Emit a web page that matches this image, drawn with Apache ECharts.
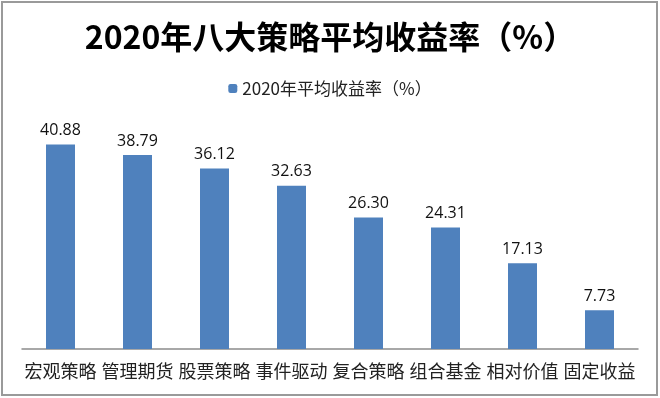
<!DOCTYPE html>
<html>
<head>
<meta charset="utf-8">
<script src="https://cdn.jsdelivr.net/npm/echarts@6/dist/echarts.min.js"></script>
<style>
  html, body { margin: 0; padding: 0; background: #fff; }
  #chart { width: 660px; height: 398px; }
</style>
</head>
<body>
<div id="chart"></div>
<script>
// 分类与数值
var categories = ['宏观策略', '管理期货', '股票策略', '事件驱动', '复合策略', '组合基金', '相对价值', '固定收益']
var returns2020 = [40.88, 38.79, 36.12, 32.63, 26.30, 24.31, 17.13, 7.73]
var seriesName = '2020年平均收益率（%）'

var myChart = echarts.init(document.getElementById('chart'))
myChart.setOption({
  animation: false,
  title: {
    text: '2020年八大策略平均收益率（%）',
    left: 'center',
    top: 16,
    textStyle: {
      fontFamily: 'Noto Sans CJK SC',
      fontWeight: 'bold',
      fontSize: 32,
      color: '#000'
    }
  },
  legend: {
    data: [seriesName],
    top: 75,
    left: 'center',
    itemWidth: 9,
    itemHeight: 9,
    itemGap: 4,
    textStyle: {
      fontFamily: 'Noto Sans CJK SC',
      fontSize: 17,
      color: '#222'
    }
  },
  grid: { left: 22, right: 22, top: 124, bottom: 49 },
  xAxis: {
    type: 'category',
    data: categories,
    axisLine: { lineStyle: { color: '#8c8c8c', width: 1.5 } },
    axisTick: { show: false },
    axisLabel: {
      fontFamily: 'Noto Sans CJK SC',
      fontSize: 18,
      color: '#222',
      margin: 13,
      interval: 0
    }
  },
  yAxis: {
    type: 'value',
    min: 0,
    max: 45,
    show: false
  },
  series: [{
    name: seriesName,
    type: 'bar',
    data: returns2020,
    barWidth: 29,
    itemStyle: { color: '#4f81bd' },
    label: {
      show: true,
      position: 'top',
      distance: 6,
      fontFamily: 'Open Sans',
      fontSize: 16,
      color: '#111',
      formatter: function (p) { return p.value.toFixed(2) }
    }
  }],
  graphic: [{
    type: 'rect',
    shape: { x: 2, y: 2, width: 655, height: 393 },
    style: { fill: 'none', stroke: '#9a9a9a', lineWidth: 2 },
    silent: true
  }]
})
</script>
</body>
</html>
